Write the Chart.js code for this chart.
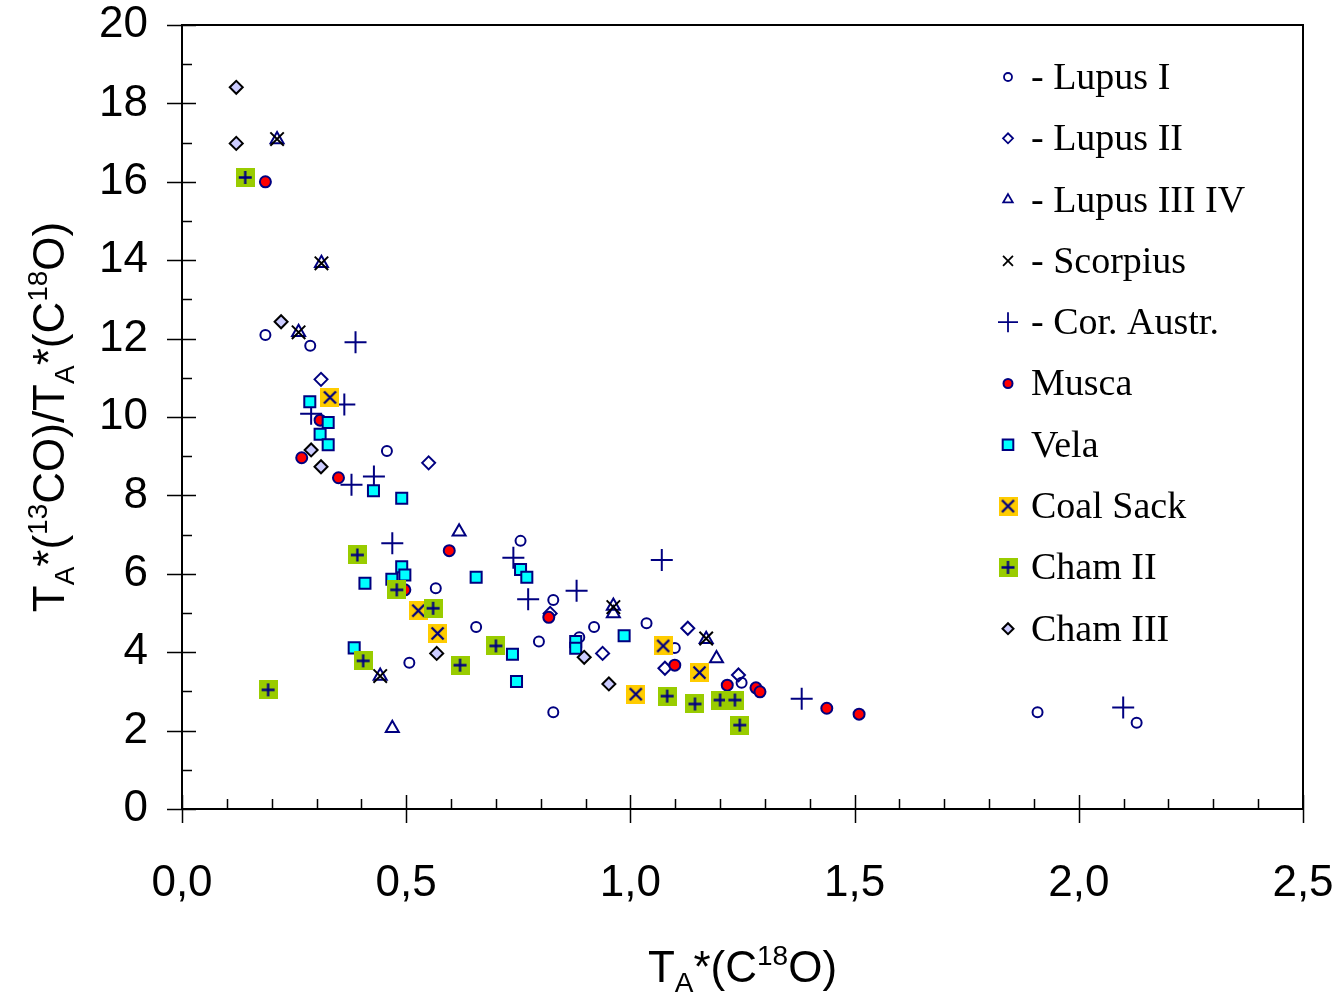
<!DOCTYPE html>
<html>
<head>
<meta charset="utf-8">
<title>13CO / C18O ratio</title>
<script src="https://cdn.jsdelivr.net/npm/chart.js@4.4.1/dist/chart.umd.min.js"></script>
<style>
  html, body { margin: 0; padding: 0; background: #fff; }
</style>
</head>
<body>
<canvas id="ratio-chart" width="1342" height="994"></canvas>
<script>
// ---- data: [TA*(C18O), ratio] per cloud ----
const lupus1 = [[0.186,12.09],[0.286,11.82],[0.457,9.13],[0.755,6.84],[0.566,5.63],[0.656,4.64],[0.507,3.73],
  [0.828,5.33],[0.828,2.47],[0.919,4.64],[0.886,4.38],[0.796,4.27],[1.036,4.74],[1.099,4.11],[1.248,3.22],
  [1.908,2.47],[2.129,2.20]];
const lupus2 = [[0.310,10.96],[0.550,8.83],[0.821,4.99],[0.938,3.97],[1.077,3.59],[1.128,4.61],[1.241,3.42]];
const lupus34 = [[0.212,17.08],[0.311,13.92],[0.260,12.16],[0.442,3.39],[0.469,2.06],[0.618,7.07],
  [0.962,5.18],[0.962,4.99],[1.169,4.33],[1.192,3.84]];
const scorpius = [[0.212,17.09],[0.311,13.92],[0.260,12.16],[0.442,3.39],[0.962,5.15],[1.169,4.35]];
const corAustr = [[0.387,11.91],[0.362,10.32],[0.288,10.08],[0.428,8.48],[0.378,8.27],[0.469,6.78],
  [0.739,6.41],[0.772,5.35],[0.880,5.57],[1.070,6.35],[1.382,2.81],[2.099,2.59]];
const musca = [[0.186,16.00],[0.308,9.92],[0.267,8.96],[0.349,8.45],[0.497,5.59],[0.596,6.59],[0.818,4.89],
  [1.099,3.67],[1.216,3.16],[1.280,3.09],[1.289,2.99],[1.438,2.57],[1.510,2.42]];
const vela = [[0.285,10.39],[0.326,9.86],[0.308,9.56],[0.326,9.29],[0.427,8.12],[0.490,7.93],[0.490,6.18],
  [0.497,5.97],[0.468,5.86],[0.408,5.76],[0.656,5.91],[0.755,6.11],[0.769,5.91],[0.384,4.11],[0.737,3.95],
  [0.746,3.25],[0.878,4.27],[0.878,4.10],[0.986,4.42]];
const coalSack = [[0.330,10.50],[0.527,5.06],[0.570,4.48],[1.073,4.16],[1.154,3.48],[1.012,2.93]];
const cham2 = [[0.141,16.11],[0.391,6.48],[0.479,5.59],[0.560,5.12],[0.404,3.78],[0.620,3.67],[0.700,4.16],
  [0.192,3.04],[1.082,2.88],[1.144,2.68],[1.200,2.78],[1.233,2.78],[1.244,2.14]];
const cham3 = [[0.121,18.41],[0.121,16.98],[0.221,12.43],[0.288,9.16],[0.310,8.73],[0.568,3.97],
  [0.897,3.87],[0.952,3.19]];

const seriesNames = ['- Lupus I', '- Lupus II', '- Lupus III IV', '- Scorpius', '- Cor. Austr.',
  'Musca', 'Vela', 'Coal Sack', 'Cham II', 'Cham III'];
const xTickLabels = ['0,0', '0,5', '1,0', '1,5', '2,0', '2,5'];
const yTickLabels = ['0', '2', '4', '6', '8', '10', '12', '14', '16', '18', '20'];

const NAVY = '#000080';
const SANS = "'Liberation Sans', Arial, sans-serif";
const SERIF = "'Liberation Serif', 'Times New Roman', serif";

// filled square markers with a symbol on top (Excel style)
function squareMarker(bg, symbol) {
    const c = document.createElement('canvas');
    c.width = 19; c.height = 19;
    const g = c.getContext('2d');
    g.fillStyle = bg;
    g.fillRect(0, 0, 19, 19);
    g.strokeStyle = NAVY;
    g.lineWidth = 2.3;
    g.beginPath();
    if (symbol === 'x') {
        g.moveTo(3.5, 3.5); g.lineTo(15.5, 15.5);
        g.moveTo(15.5, 3.5); g.lineTo(3.5, 15.5);
    } else {
        g.moveTo(9.5, 3); g.lineTo(9.5, 16);
        g.moveTo(3, 9.5); g.lineTo(16, 9.5);
    }
    g.stroke();
    return c;
}
const coalImg = squareMarker('#FFCC00', 'x');
const chamImg = squareMarker('#99CC00', '+');

// marker styles: chart size + legend size
const styles = [
    { pointStyle: 'circle', radius: 5, legendRadius: 4, bg: 'rgba(0,0,0,0)', border: NAVY, bw: 2 },
    { pointStyle: 'rectRot', radius: 6.5, legendRadius: 5, bg: 'rgba(0,0,0,0)', border: NAVY, bw: 2 },
    { pointStyle: 'triangle', radius: 7.5, legendRadius: 5.5, bg: 'rgba(0,0,0,0)', border: NAVY, bw: 2 },
    { pointStyle: 'crossRot', radius: 9.5, legendRadius: 7, bg: 'rgba(0,0,0,0)', border: '#000', bw: 2 },
    { pointStyle: 'cross', radius: 11, legendRadius: 10, bg: 'rgba(0,0,0,0)', border: NAVY, bw: 2 },
    { pointStyle: 'circle', radius: 5.5, legendRadius: 4.5, bg: '#FF0000', border: NAVY, bw: 2 },
    { pointStyle: 'rect', radius: 7.8, legendRadius: 7.5, bg: '#00FFFF', border: NAVY, bw: 2 },
    { pointStyle: coalImg, radius: 9, legendRadius: 9, bg: '#FFCC00', border: NAVY, bw: 0 },
    { pointStyle: chamImg, radius: 9, legendRadius: 9, bg: '#99CC00', border: NAVY, bw: 0 },
    { pointStyle: 'rectRot', radius: 6.5, legendRadius: 5.5, bg: '#CCCCFF', border: '#000', bw: 2 }
];
const seriesData = [lupus1, lupus2, lupus34, scorpius, corAustr, musca, vela, coalSack, cham2, cham3];

const datasets = seriesData.map((pts, i) => ({
    label: seriesNames[i],
    data: pts.map(p => ({ x: p[0], y: p[1] })),
    pointStyle: styles[i].pointStyle,
    pointRadius: styles[i].radius,
    pointBackgroundColor: styles[i].bg,
    pointBorderColor: styles[i].border,
    pointBorderWidth: styles[i].bw,
    showLine: false,
    order: 20 - i   // later series drawn on top
}));

// axis frame, ticks, titles and legend
const framePlugin = {
    id: 'frame',
    afterDraw(chart) {
        const ctx = chart.ctx;
        const { left, right, top, bottom } = chart.chartArea;
        const xs = chart.scales.x, ys = chart.scales.y;
        ctx.save();
        ctx.strokeStyle = '#000';

        // top and right border
        ctx.lineWidth = 2;
        ctx.beginPath();
        ctx.moveTo(left, top); ctx.lineTo(right, top); ctx.lineTo(right, bottom);
        ctx.stroke();

        // y ticks: major every 2 cross the axis, minor every 1 inside
        ctx.lineWidth = 1.5;
        ctx.beginPath();
        for (let v = 0; v <= 20; v++) {
            const py = Math.round(ys.getPixelForValue(v)) + 0.5;
            if (v % 2 === 0) { ctx.moveTo(left - 15, py); ctx.lineTo(left + 14, py); }
            else { ctx.moveTo(left, py); ctx.lineTo(left + 10, py); }
        }
        // x ticks: major every 0.5 cross the axis, minor every 0.1 inside
        for (let k = 0; k <= 25; k++) {
            const px = Math.round(xs.getPixelForValue(k / 10)) + 0.5;
            if (k % 5 === 0) { ctx.moveTo(px, bottom - 14); ctx.lineTo(px, bottom + 14); }
            else { ctx.moveTo(px, bottom); ctx.lineTo(px, bottom - 10); }
        }
        ctx.stroke();

        // axis titles with sub/superscripts
        ctx.fillStyle = '#000';
        const big = 44, small = 28;
        function rich(parts, cx, cy, rot) {
            ctx.save();
            ctx.translate(cx, cy);
            ctx.rotate(rot);
            ctx.textBaseline = 'alphabetic';
            ctx.textAlign = 'left';
            let w = 0;
            parts.forEach(p => {
                ctx.font = (p.s ? small : big) + 'px ' + SANS;
                p.w = ctx.measureText(p.t).width;
                w += p.w;
            });
            let x = -w / 2;
            parts.forEach(p => {
                ctx.font = (p.s ? small : big) + 'px ' + SANS;
                const dy = p.s === 'sub' ? 10 : p.s === 'sup' ? -17 : 0;
                ctx.fillText(p.t, x, dy);
                x += p.w;
            });
            ctx.restore();
        }
        rich([{ t: 'T' }, { t: 'A', s: 'sub' }, { t: '*(' }, { t: '13', s: 'sup' }, { t: 'CO)/T' },
              { t: 'A', s: 'sub' }, { t: '*(C' }, { t: '18', s: 'sup' }, { t: 'O)' }],
             64, (top + bottom) / 2, -Math.PI / 2);
        rich([{ t: 'T' }, { t: 'A', s: 'sub' }, { t: '*(C' }, { t: '18', s: 'sup' }, { t: 'O)' }],
             (left + right) / 2, 982, 0);

        // legend
        ctx.font = '38px ' + SERIF;
        ctx.textBaseline = 'middle';
        ctx.textAlign = 'left';
        seriesNames.forEach((name, i) => {
            const y = 77 + i * 61.3;
            const st = styles[i];
            ctx.fillStyle = st.bg;
            ctx.strokeStyle = st.border;
            ctx.lineWidth = i < 5 ? 1.8 : 2;
            Chart.helpers.drawPoint(ctx, {
                pointStyle: st.pointStyle, radius: st.legendRadius, rotation: 0,
                borderWidth: st.bw
            }, 1008, y);
            ctx.fillStyle = '#000';
            ctx.fillText(name, 1031, y + 2);
        });
        ctx.restore();
    }
};

// keep the plot area fixed: no automatic label padding
function fixPadding(s) {
    s.paddingLeft = 0; s.paddingRight = 0;
    s.paddingTop = 0; s.paddingBottom = 0;
}

new Chart(document.getElementById('ratio-chart'), {
    type: 'scatter',
    data: { datasets: datasets },
    options: {
        responsive: false,
        animation: false,
        layout: { padding: { top: 25, right: 39, left: 0, bottom: 0 } },
        plugins: {
            legend: { display: false },
            tooltip: { enabled: false }
        },
        scales: {
            x: {
                type: 'linear',
                min: 0, max: 2.5,
                grid: { display: false },
                border: { display: true, color: '#000', width: 2 },
                ticks: {
                    stepSize: 0.5,
                    color: '#000',
                    padding: 40,
                    maxRotation: 0,
                    font: { family: SANS, size: 44 },
                    callback: (v, i) => xTickLabels[i]
                },
                afterFit: (s) => { s.height = 185; fixPadding(s); }
            },
            y: {
                type: 'linear',
                min: 0, max: 20,
                grid: { display: false },
                border: { display: true, color: '#000', width: 2 },
                ticks: {
                    stepSize: 2,
                    color: '#000',
                    padding: 26,
                    font: { family: SANS, size: 44 },
                    callback: (v, i) => yTickLabels[i]
                },
                afterFit: (s) => { s.width = 182; fixPadding(s); }
            }
        }
    },
    plugins: [framePlugin]
});
</script>
</body>
</html>
